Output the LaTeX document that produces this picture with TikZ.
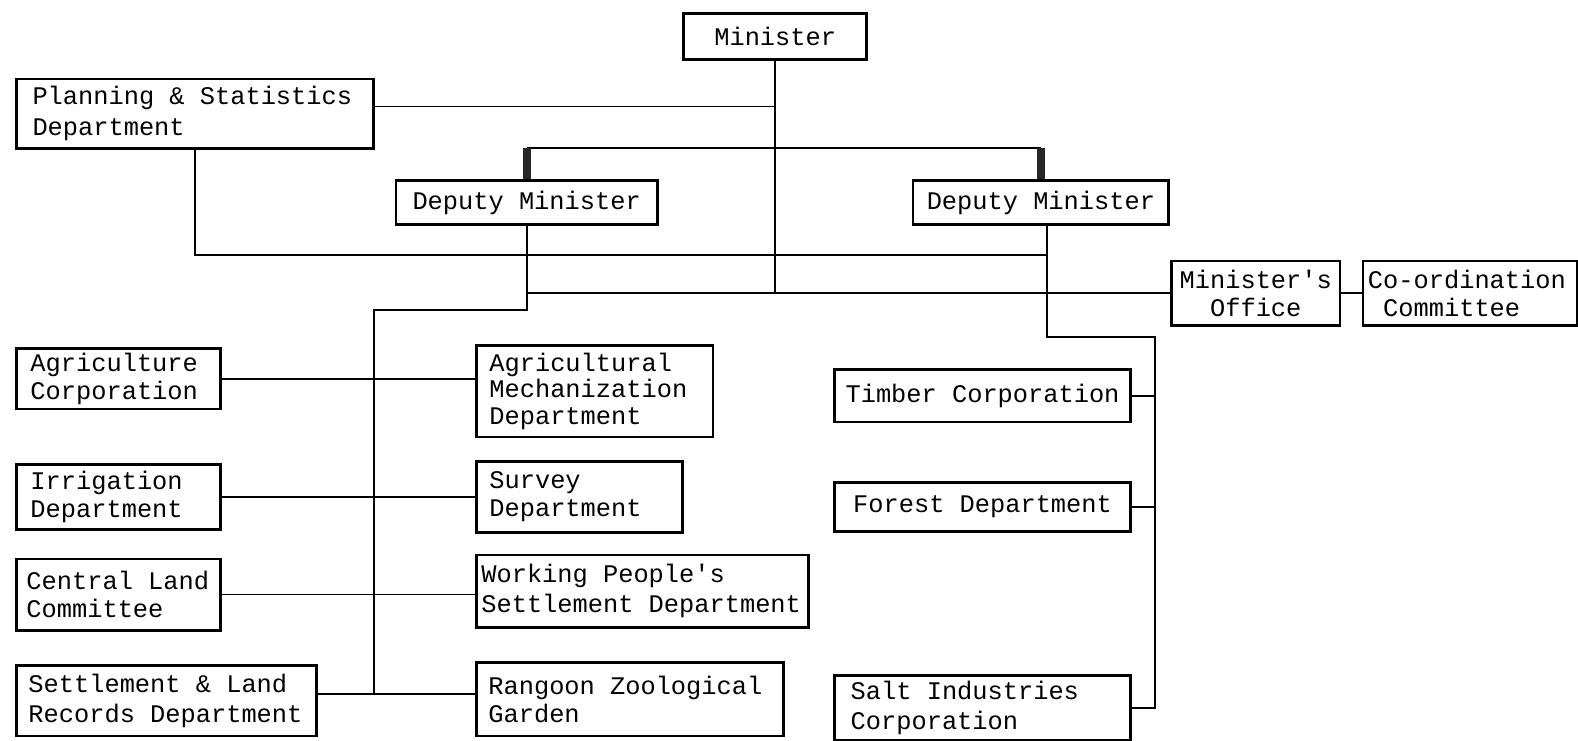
\documentclass[tikz,border=0pt]{standalone}
\usepackage{fontspec}
\usetikzlibrary{positioning}
\newfontfamily\orgmono{Liberation Mono}
\newcommand{\orgfont}[1][14]{\orgmono\fontsize{12.6}{#1}\selectfont}
\tikzset{
  org/.style={draw, line width=1.3pt, anchor=north west, align=left,
              font=\orgfont, inner xsep=7pt, inner ysep=2pt,
              % typewriter spacing: a full cell between words
              execute at begin node={\spaceskip=0.6em\relax\xspaceskip=0.6em\relax}},
  orgc/.style={org, align=center},
  wire/.style={line width=0.9pt},
  % the short heavy posts above the two deputies
  deputybar/.style={line width=4pt, black!85},
}

\begin{document}
\begin{tikzpicture}[x=0.5pt, y=-0.5pt]
\fill[white] (0,0) rectangle (1568,736);
\useasboundingbox (0,0) rectangle (1568,736);

%% ── the top ───────────────────────────────────────────────────────────────
\node[orgc, inner xsep=5pt, text width=81pt, minimum height=23pt] (minister)
  at (678,12) {Minister};
\node[org, inner xsep=8pt, text width=161.5pt, minimum height=34.5pt,
  font={\orgfont[15]}] (plan)
  at (15,77) {Planning \& Statistics\\Department};

\node[orgc, inner xsep=5pt, text width=120pt, minimum height=22pt] (depL)
  at (392,178) {Deputy Minister};
\node[orgc, inner xsep=5pt, text width=117pt, minimum height=22pt] (depR)
  at (906,178) {Deputy Minister};

\node[orgc, inner xsep=3.5pt, text width=76.5pt, minimum height=32pt] (office)
  at (1163,258) {Minister's\\Office};
\node[org, inner xsep=2.5pt, text width=101.5pt, minimum height=32pt] (coord)
  at (1353,258) {Co-ordination\\\hphantom{C}Committee};

%% ── left branch ───────────────────────────────────────────────────────────
\node[org, text width=87.5pt, minimum height=30pt] (agcorp)
  at (15,345) {Agriculture\\Corporation};
\node[org, inner xsep=6.5pt, text width=104.5pt, minimum height=45.5pt,
  font={\orgfont[13]}] (mech)
  at (472,342) {Agricultural\\Mechanization\\Department};
\node[org, text width=87.5pt, minimum height=32.5pt] (irrig)
  at (15,460) {Irrigation\\Department};
\node[org, inner xsep=6.5pt, text width=89.5pt, minimum height=35.5pt] (survey)
  at (472,457) {Survey\\Department};
\node[org, inner xsep=5pt, text width=91.5pt, minimum height=35.5pt] (cland)
  at (15,554) {Central Land\\Committee};
\node[org, inner xsep=2.5pt, text width=160pt, minimum height=36pt,
  font={\orgfont[15]}] (wpeople)
  at (472,550) {Working People's\\Settlement Department};
\node[org, inner xsep=6pt, text width=137pt, minimum height=35pt,
  font={\orgfont[15]}] (records)
  at (15,660) {Settlement \& Land\\Records Department};
\node[org, inner xsep=6pt, text width=140.5pt, minimum height=36.5pt] (zoo)
  at (472,657) {Rangoon Zoological\\Garden};

%% ── right branch ──────────────────────────────────────────────────────────
\node[orgc, inner xsep=4pt, text width=139pt, minimum height=26pt] (timber)
  at (828,366) {Timber Corporation};
\node[orgc, inner xsep=4pt, text width=139pt, minimum height=24.5pt] (forest)
  at (828,478) {Forest Department};
\node[org, inner xsep=8pt, text width=131pt, minimum height=32pt,
  font={\orgfont[15]}] (salt)
  at (828,670) {Salt Industries\\Corporation};

%% ── junctions ─────────────────────────────────────────────────────────────
\coordinate (barL) at (depL.north |- 0,147);
\coordinate (barR) at (depR.north |- 0,147);
\coordinate (planE) at ([yshift=3.5pt]plan.east);
\coordinate (planR) at ([xshift=3pt]depR.south |- 0,253);
\coordinate (recE) at ([yshift=3.5pt]records.east);
\coordinate (spineL) at (372,308);
\coordinate (spineR) at (1148,335);

%% ── lines ─────────────────────────────────────────────────────────────────
\draw[wire] (minister.south) -- (minister.south |- office.west);
\draw[wire] (planE) -- (planE -| minister.south);
\draw[wire] (barL) -- (barR);
\draw[deputybar] (depL.north) -- (barL);
\draw[deputybar] (depR.north) -- (barR);
\draw[wire] (plan.south) |- (planR);
\draw[wire] (depL.south |- office.west) -- (office.west);
\draw[wire] (office) -- (coord);

\draw[wire] (depL.south) |- (spineL) -- (spineL |- recE);
\draw[wire] (agcorp.east) -- (agcorp.east -| mech.west);
\draw[wire] (irrig.east) -- (irrig.east -| survey.west);
\draw[wire] (cland.east) -- (cland.east -| wpeople.west);
\draw[wire] (recE) -- (recE -| zoo.west);

\draw[wire] ([xshift=3pt]depR.south) |- (spineR) |- (salt.east);
\draw[wire] (timber.east) -- (timber.east -| spineR);
\draw[wire] (forest.east) -- (forest.east -| spineR);

\end{tikzpicture}
\end{document}
